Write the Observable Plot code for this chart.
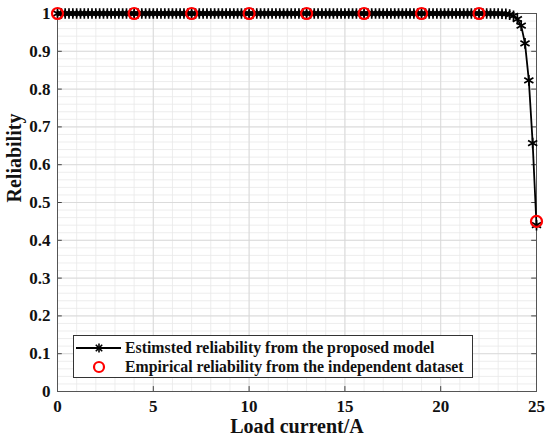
<!DOCTYPE html>
<html>
<head>
<meta charset="utf-8">
<script src="https://cdn.jsdelivr.net/npm/d3@7"></script>
<script src="https://cdn.jsdelivr.net/npm/@observablehq/plot@0.6"></script>
<style>
  body { margin: 0; background: #fff; }
  #wrap { position: relative; width: 550px; height: 443px; font-family: "Liberation Serif", "Times New Roman", serif; }
  #legend { position: absolute; left: 73px; top: 335px; width: 398px; height: 41px; border: 1px solid #333; background: #fff; }
  #legend svg { position: absolute; left: 0; top: 0; }
  .lt { position: absolute; left: 51px; font-weight: bold; font-size: 15.8px; line-height: 17px; color: #111; white-space: nowrap; }
</style>
</head>
<body>
<div id="wrap"></div>
<script>
// Load current (A) for the model curve
const current = [0,0.2,0.4,0.6,0.8,1,1.2,1.4,1.6,1.8,2,2.2,2.4,2.6,2.8,3,3.2,3.4,3.6,3.8,4,4.2,4.4,4.6,4.8,5,5.2,5.4,5.6,5.8,6,6.2,6.4,6.6,6.8,7,7.2,7.4,7.6,7.8,8,8.2,8.4,8.6,8.8,9,9.2,9.4,9.6,9.8,10,10.2,10.4,10.6,10.8,11,11.2,11.4,11.6,11.8,12,12.2,12.4,12.6,12.8,13,13.2,13.4,13.6,13.8,14,14.2,14.4,14.6,14.8,15,15.2,15.4,15.6,15.8,16,16.2,16.4,16.6,16.8,17,17.2,17.4,17.6,17.8,18,18.2,18.4,18.6,18.8,19,19.2,19.4,19.6,19.8,20,20.2,20.4,20.6,20.8,21,21.2,21.4,21.6,21.8,22,22.2,22.4,22.6,22.8,23,23.2,23.4,23.6,23.8,24,24.2,24.4,24.6,24.8,25];
// Estimated reliability from the proposed model
const estimated = [
  1,1,1,1,1,1,1,1,1,1,1,1,1,1,1,1,1,1,1,1,1,1,1,1,1,   // 0 .. 4.8
  1,1,1,1,1,1,1,1,1,1,1,1,1,1,1,1,1,1,1,1,1,1,1,1,1,   // 5 .. 9.8
  1,1,1,1,1,1,1,1,1,1,1,1,1,1,1,1,1,1,1,1,1,1,1,1,1,   // 10 .. 14.8
  1,1,1,1,1,1,1,1,1,1,1,1,1,1,1,1,1,1,1,1,1,1,1,1,1,   // 15 .. 19.8
  1,1,1,1,1,1,1,1,1,1,1,1,1,1,1,                       // 20 .. 22.8
  0.9998,0.9995,0.999,0.997,0.994,0.985,0.968,0.921,0.823,0.657,0.44 // 23 .. 25
];
// Empirical reliability from the independent dataset
const empCurrent = [0, 4, 7, 10, 13, 16, 19, 22, 25];
const empReliability = [1, 1, 1, 1, 1, 1, 1, 1, 0.45];

const xTicks = [0, 5, 10, 15, 20, 25];
const yTicks = [0, 0.1, 0.2, 0.3, 0.4, 0.5, 0.6, 0.7, 0.8, 0.9, 1];
const xTickLabels = ["0", "5", "10", "15", "20", "25"];
const yTickLabels = ["0", "0.1", "0.2", "0.3", "0.4", "0.5", "0.6", "0.7", "0.8", "0.9", "1"];
const xLabel = "Load current/A";
const yLabel = "Reliability";
const legendLabels = ["Estimsted reliability from the proposed model", "Empirical reliability from the independent dataset"];

const model = current.map((c, i) => ({c, r: estimated[i]}));
const emp = empCurrent.map((c, i) => ({c, r: empReliability[i]}));
const xMinor = d3.range(0, 25.001, 1);
const yMinor = d3.range(0, 1.0001, 0.02);

const chart = Plot.plot({
  width: 550,
  height: 443,
  marginLeft: 57,
  marginRight: 14,
  marginTop: 13,
  marginBottom: 52,
  style: {fontFamily: "'Liberation Serif', 'Times New Roman', serif", fontWeight: "bold", fontSize: "17px", color: "#111", background: "#fff"},
  x: {domain: [0, 25]},
  y: {domain: [0, 1]},
  marks: [
    Plot.ruleX(xMinor, {stroke: "#e9e9e9", strokeWidth: 0.8}),
    Plot.ruleY(yMinor, {stroke: "#e9e9e9", strokeWidth: 0.8}),
    Plot.ruleX(xTicks, {stroke: "#d6d6d6", strokeWidth: 0.8}),
    Plot.ruleY(yTicks, {stroke: "#d6d6d6", strokeWidth: 0.8}),
    // inward ticks
    Plot.ruleX(xTicks, {y1: 0, y2: 0.013, stroke: "#444", strokeWidth: 1}),
    Plot.ruleX(xTicks, {y1: 1, y2: 0.987, stroke: "#444", strokeWidth: 1}),
    Plot.ruleY(yTicks, {x1: 0, x2: 0.25, stroke: "#444", strokeWidth: 1}),
    Plot.ruleY(yTicks, {x1: 25, x2: 24.75, stroke: "#444", strokeWidth: 1}),
    Plot.frame({stroke: "#555", strokeWidth: 1}),
    Plot.axisX(xTicks, {tickSize: 0, tickPadding: 8, fontSize: 17, fontWeight: "bold", tickFormat: (d, i) => xTickLabels[i], label: null, fill: "#111"}),
    Plot.axisY(yTicks, {tickSize: 0, tickPadding: 7, fontSize: 17, fontWeight: "bold", tickFormat: (d, i) => yTickLabels[i], label: null, fill: "#111"}),
    Plot.text([xLabel], {frameAnchor: "bottom", dy: 41, fontSize: 20, fontWeight: "bold", fill: "#111"}),
    Plot.text([yLabel], {frameAnchor: "left", dx: -43, rotate: -90, fontSize: 20, fontWeight: "bold", fill: "#111"}),
    Plot.line(model, {x: "c", y: "r", stroke: "#000", strokeWidth: 1.8}),
    Plot.dot(model, {x: "c", y: "r", symbol: "asterisk", r: 5, stroke: "#000", strokeWidth: 1.7}),
    Plot.dot(emp, {x: "c", y: "r", symbol: "circle", r: 5.5, stroke: "#ff0000", strokeWidth: 2.2, fill: "none"})
  ]
});

const wrap = document.getElementById("wrap");
wrap.appendChild(chart);

const legend = document.createElement("div");
legend.id = "legend";
legend.innerHTML = `
<svg width="50" height="41">
  <line x1="2" y1="12" x2="47" y2="12" stroke="#000" stroke-width="1.8"/>
  <g transform="translate(25,12)" stroke="#000" stroke-width="1.6">
    <line x1="-4.5" y1="0" x2="4.5" y2="0"/><line x1="0" y1="-4.5" x2="0" y2="4.5"/>
    <line x1="-3.2" y1="-3.2" x2="3.2" y2="3.2"/><line x1="-3.2" y1="3.2" x2="3.2" y2="-3.2"/>
  </g>
  <circle cx="25" cy="31" r="5" fill="none" stroke="#ff0000" stroke-width="2.2"/>
</svg>
<div class="lt" style="top:3px">${legendLabels[0]}</div>
<div class="lt" style="top:22px">${legendLabels[1]}</div>`;
wrap.appendChild(legend);
</script>
</body>
</html>
